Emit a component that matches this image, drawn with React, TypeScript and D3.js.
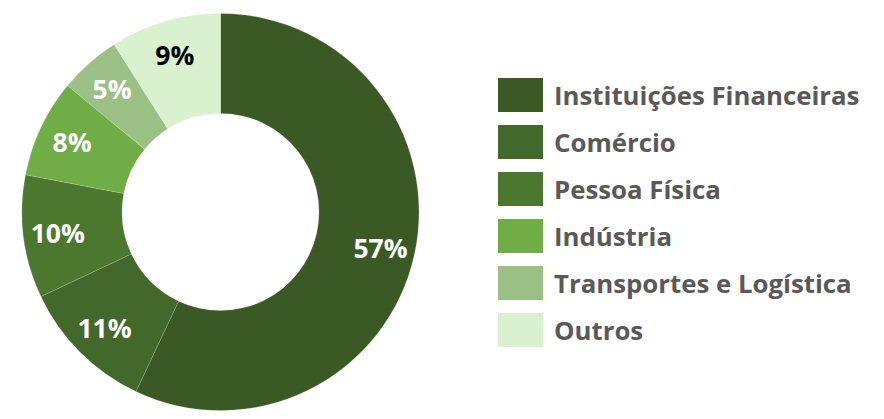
import React from "react";
import * as d3 from "d3";

const categories = [
  "Instituições Financeiras",
  "Comércio",
  "Pessoa Física",
  "Indústria",
  "Transportes e Logística",
  "Outros",
];
const values = [57, 11, 10, 8, 5, 9];
const colors = ["#3B5925", "#43682B", "#4B772F", "#70AD47", "#9BC086", "#D9F1CF"];
const labelColors = ["#FFFFFF", "#FFFFFF", "#FFFFFF", "#FFFFFF", "#FFFFFF", "#000000"];

const W = 884;
const H = 419;
const cx = 220.5;
const cy = 212;
const outerR = 198.5;
const innerR = 98.5;
const labelR = 164;

export default function App() {
  const pie = d3
    .pie<number>()
    .sort(null)
    .value((d) => d);
  const arcs = pie(values);
  const arcGen = d3.arc<d3.PieArcDatum<number>>().innerRadius(innerR).outerRadius(outerR);
  const labelArc = d3.arc<d3.PieArcDatum<number>>().innerRadius(labelR).outerRadius(labelR);
  const font = "'Open Sans', Lato, sans-serif";

  const legendY = d3.scaleBand<number>().domain(d3.range(categories.length)).range([78, 78 + 47 * 6]).paddingInner(0);

  return (
    <svg width={W} height={H} style={{ position: "absolute", left: 0, top: 0, background: "#fff" }}>
      <g transform={`translate(${cx},${cy})`}>
        {arcs.map((a, i) => (
          <path key={i} d={arcGen(a) || ""} fill={colors[i]} stroke="#ffffff" strokeWidth={0.4} strokeOpacity={0.4} />
        ))}
        {arcs.map((a, i) => {
          const [x, y] = labelArc.centroid(a);
          return (
            <text
              key={i}
              x={x}
              y={y}
              textAnchor="middle"
              dominantBaseline="central"
              fill={labelColors[i]}
              fontFamily={font}
              fontWeight={700}
              fontSize={26.5}
            >
              {values[i]}%
            </text>
          );
        })}
      </g>
      {categories.map((c, i) => {
        const y = legendY(i) as number;
        return (
          <g key={c}>
            <rect x={498} y={y} width={45} height={34} fill={colors[i]} />
            <text
              x={554}
              y={y + 17}
              dominantBaseline="central"
              fill="#595959"
              fontFamily={font}
              fontWeight={700}
              fontSize={25.8}
            >
              {c}
            </text>
          </g>
        );
      })}
    </svg>
  );
}
